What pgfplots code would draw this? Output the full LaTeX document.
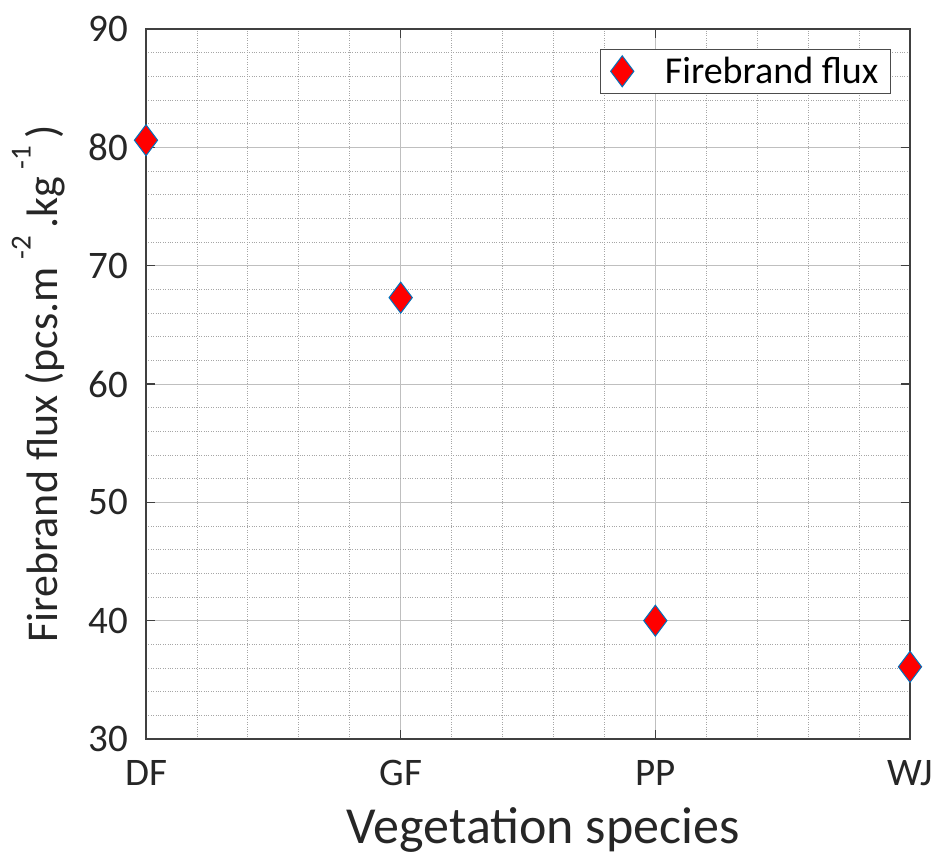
\documentclass[border=0pt]{standalone}
\usepackage{pgfplots}
\pgfplotsset{compat=1.18}
\usepackage{fontspec}
\setmainfont{Carlito}
\definecolor{mblue}{RGB}{0,114,189}
\newcommand{\sups}[1]{\raisebox{0.62em}{\fontsize{29}{30}\selectfont #1}}
\begin{document}
\begin{tikzpicture}
\useasboundingbox (-146pt,-117pt) rectangle (793pt,739pt);
\begin{axis}[
 scale only axis, width=764pt, height=710pt,
 xmin=0, xmax=3, ymin=30, ymax=90,
 xtick={0,1,2,3}, xticklabels={DF,GF,PP,WJ},
 ytick={30,40,...,90},
 minor x tick num=4, minor y tick num=4,
 grid=both,
 major grid style={black!25, line width=0.9pt},
 minor grid style={black!35, dotted, line width=0.8pt},
 axis line style={black!75, line width=1.3pt},
 tick style={black!75, line width=1.3pt},
 major tick length=9pt, minor tick length=0pt,
 tick align=inside,
 ticklabel style={font=\fontsize{39}{42}\selectfont, text=black!85},
 /pgf/number format/assume math mode=true,
 xticklabel style={anchor=base, inner sep=0pt, yshift=-46pt},
 yticklabel style={anchor=east, inner sep=0pt, xshift=-18pt},
 xlabel={Vegetation species},
 ylabel={Firebrand flux (pcs.m\,\sups{-2}\,.kg\,\sups{-1}\,)},
 xlabel style={font=\fontsize{52}{56}\selectfont, text=black!85,
   at={(axis description cs:0.52,-0.147)}, anchor=base},
 ylabel style={font=\fontsize{44}{48}\selectfont, text=black!85,
   at={(axis description cs:-0.1152,0.5)}, anchor=base},
 clip=false,
 legend style={at={(0.975,0.972)}, anchor=north east, draw=black!70, line width=1pt,
   font=\fontsize{38}{40}\selectfont, inner xsep=10pt, inner ysep=6pt, column sep=29pt},
 legend cell align=left,
]
\addplot[only marks, mark=diamond*, mark size=15.5pt,
  mark options={fill=red, draw=mblue, line width=1pt}]
 coordinates {(0,80.6) (1,67.3) (2,40.0) (3,36.1)};
\addlegendentry{Firebrand flux}
\end{axis}
\end{tikzpicture}
\end{document}
